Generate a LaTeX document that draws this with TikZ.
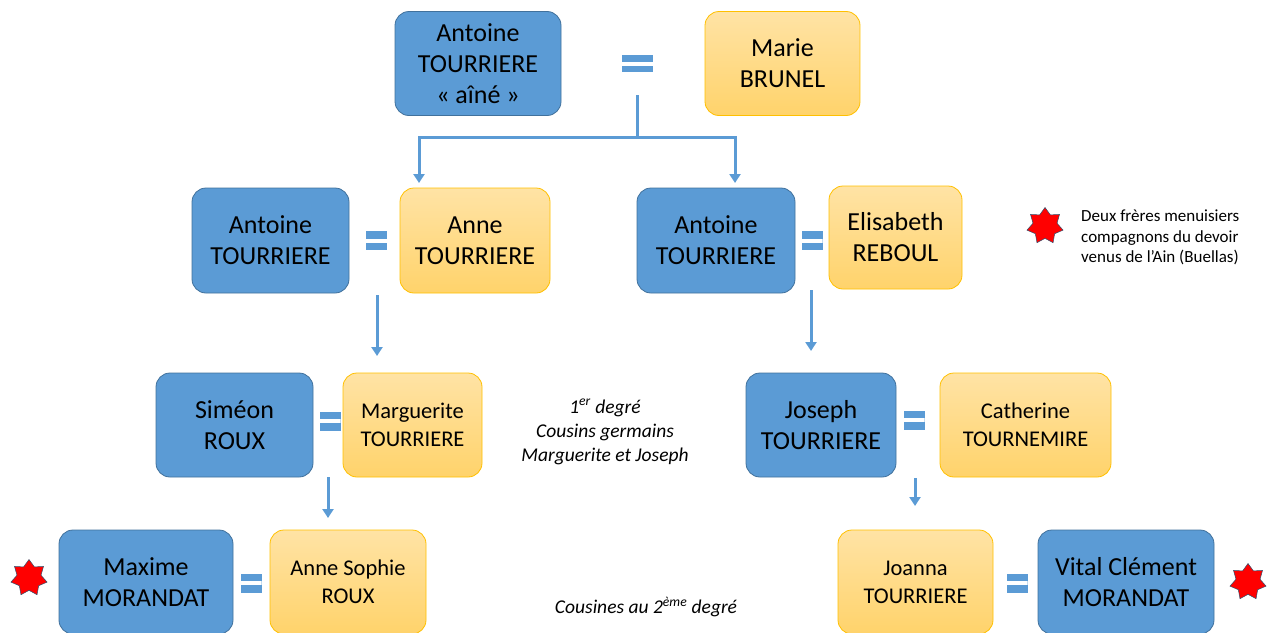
\documentclass[tikz,border=0pt]{standalone}
\usepackage{fontspec}
\setmainfont{Carlito}
\usetikzlibrary{arrows.meta, positioning, shapes.geometric}

\definecolor{famblue}{HTML}{5B9BD5}
\definecolor{famblueline}{HTML}{41719C}
\definecolor{famorange}{HTML}{FFD36B}
\definecolor{famorangetop}{HTML}{FFE3A5}
\definecolor{famgold}{HTML}{FFC000}
\definecolor{starred}{HTML}{FF0000}

\begin{document}
\begin{tikzpicture}[
    x=1pt, y=-1pt,
    every node/.style={font=\fontsize{26}{31}\selectfont},
    man/.style={draw=famblueline, fill=famblue, rounded corners=14pt, align=center, line width=0.8pt, minimum height=104pt, inner sep=0pt},
    woman/.style={draw=famgold, top color=famorangetop, bottom color=famorange, rounded corners=14pt, align=center, line width=0.8pt, minimum height=104pt, inner sep=0pt},
    small/.style={font=\fontsize{22.5}{28}\selectfont},
    wed/.style={fill=famblue, minimum width=21pt, minimum height=19pt, inner sep=0pt,
        path picture={\fill[white] ([yshift=-2pt]path picture bounding box.west) rectangle ([yshift=2pt]path picture bounding box.east);}},
    wedbig/.style={wed, minimum width=31pt, minimum height=17pt},
    redstar/.style={star, star points=7, star point ratio=1.5, fill=starred, draw=famblueline!70!black, line width=0.5pt, minimum size=37pt, inner sep=0pt},
    note/.style={font=\fontsize{17}{20.5}\selectfont, align=left, inner sep=0pt},
    cousinnote/.style={font=\fontsize{19.5}{24}\selectfont\itshape, align=center, inner sep=0pt},
    link/.style={famblue, line width=3pt},
    arrow/.style={link, -{Triangle[width=11pt, length=9pt]}}
]
    \useasboundingbox (0,0) rectangle (1273,632);
    \clip (0,0) rectangle (1273,632);

    % first generation
    \node[man, minimum width=166pt] (aine) at (478,63.5) {Antoine\\TOURRIERE\\« aîné »};
    \node[woman, minimum width=155pt] (marie) at (782.5,63.5) {Marie\\BRUNEL};
    \node[wedbig] (w1) at (637.5,63.5) {};
    \coordinate (m1) at (637,95);
    \coordinate (fork) at (637,137);
    \coordinate (to4) at (419,183);
    \coordinate (to5) at (735,183);
    \draw[link] (m1) -- (fork);
    \draw[arrow] (fork) -| (to4);
    \draw[arrow] (fork) -| (to5);

    % second generation
    \node[man, minimum width=157pt, minimum height=105pt] (antoine) at (270.5,240.5) {Antoine\\TOURRIERE};
    \node[woman, minimum width=150pt, minimum height=105pt] (anne) at (475,240.5) {Anne\\TOURRIERE};
    \node[wed] (w2) at (376.5,240.5) {};
    \node[man, minimum width=158pt, minimum height=105pt] (antoineb) at (716,240.5) {Antoine\\TOURRIERE};
    \node[woman, minimum width=133pt, minimum height=103pt] (elisabeth) at (895.5,237.5) {Elisabeth\\REBOUL};
    \node[wed] (w3) at (812,240.5) {};

    \node[redstar] (s1) at (1045,226) {};
    \node[note, anchor=west] (devoir) at (1081,237.5) {Deux frères menuisiers\\compagnons du devoir\\venus de l’Ain (Buellas)};

    \coordinate (d2a) at (377,295);
    \coordinate (d2b) at (377,356);
    \coordinate (d3a) at (811,290);
    \coordinate (d3b) at (811,351);
    \draw[arrow] (d2a) -- (d2b);
    \draw[arrow] (d3a) -- (d3b);

    % third generation
    \node[man, minimum width=157pt] (simeon) at (234.5,425) {Siméon\\ROUX};
    \node[woman, small, minimum width=139pt] (marguerite) at (412.5,425) {Marguerite\\TOURRIERE};
    \node[wed] (w4) at (330,421) {};
    \node[cousinnote] (cousins) at (605,432) {1\textsuperscript{er} degré\\Cousins germains\\Marguerite et Joseph};
    \node[man, minimum width=150pt] (joseph) at (821,425) {Joseph\\TOURRIERE};
    \node[woman, small, minimum width=171pt] (catherine) at (1025.5,425) {Catherine\\TOURNEMIRE};
    \node[wed] (w5) at (914,420) {};

    \coordinate (d4a) at (328,477);
    \coordinate (d4b) at (328,518);
    \coordinate (d5a) at (915,478);
    \coordinate (d5b) at (915,506);
    \draw[arrow] (d4a) -- (d4b);
    \draw[arrow] (d5a) -- (d5b);

    % fourth generation
    \node[man, minimum width=174pt] (maxime) at (146,582) {Maxime\\MORANDAT};
    \node[woman, small, minimum width=156pt] (annesophie) at (348,582) {Anne Sophie\\ROUX};
    \node[wed] (w6) at (251,583) {};
    \node[redstar] (s2) at (29,578) {};
    \node[cousinnote] (cousines) at (646,607) {Cousines au 2\textsuperscript{ème} degré};
    \node[woman, small, minimum width=155pt] (joanna) at (915.5,582) {Joanna\\TOURRIERE};
    \node[man, minimum width=176pt] (vital) at (1126,582) {Vital Clément\\MORANDAT};
    \node[wed] (w7) at (1017,583) {};
    \node[redstar] (s3) at (1248,582) {};
\end{tikzpicture}
\end{document}
